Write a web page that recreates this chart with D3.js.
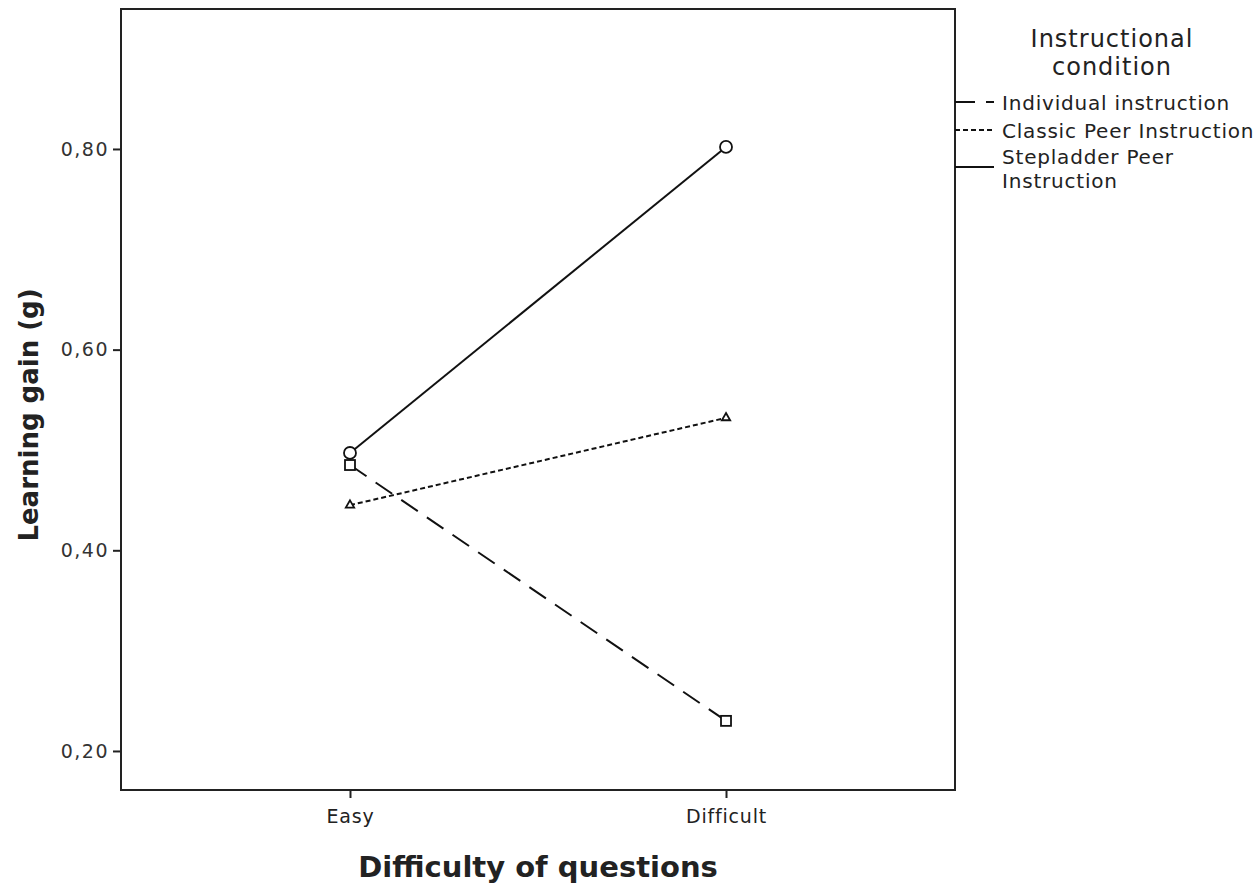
<!DOCTYPE html>
<html><head><meta charset="utf-8">
<script src="https://cdn.jsdelivr.net/npm/d3@7"></script>
<style>body{margin:0;background:#fff}</style>
</head><body>
<svg id="c" width="1258" height="885"></svg>
<script>
const categories = ["Easy", "Difficult"];
const seriesNames = ["Individual instruction", "Classic Peer Instruction", "Stepladder Peer Instruction"];
const individualValues = [0.485, 0.230];
const classicValues = [0.445, 0.532];
const stepladderValues = [0.497, 0.802];
const yTicks = [0.20, 0.40, 0.60, 0.80];

const series = [
  {name: seriesNames[0], values: individualValues, dash: "20,11", marker: "square"},
  {name: seriesNames[1], values: classicValues, dash: "5,3", marker: "triangle"},
  {name: seriesNames[2], values: stepladderValues, dash: null, marker: "circle"}
];

const svg = d3.select("#c");
const L = 121, R = 955, T = 9, B = 790;
const font = "'DejaVu Sans', sans-serif";
const x = d3.scalePoint().domain(categories).range([L, R]).padding(0.609);
const y = d3.scaleLinear().domain([0.1611, 0.9395]).range([B, T]);

// frame
svg.append("rect").attr("x", L).attr("y", T).attr("width", R - L).attr("height", B - T)
  .attr("fill", "none").attr("stroke", "#222").attr("stroke-width", 2);

// y axis
const ya = svg.append("g").attr("transform", `translate(${L},0)`)
  .call(d3.axisLeft(y).tickValues(yTicks).tickSize(8).tickPadding(4)
    .tickFormat(d => d3.format(".2f")(d).replace(".", ",")));
ya.select(".domain").remove();
ya.selectAll("line").attr("stroke", "#222").attr("stroke-width", 2);
ya.selectAll("text").attr("font-family", font).attr("font-size", 19).attr("letter-spacing", 1.5).attr("fill", "#333");

// x axis
const xa = svg.append("g").attr("transform", `translate(0,${B})`)
  .call(d3.axisBottom(x).tickSize(8).tickPadding(12));
xa.select(".domain").remove();
xa.selectAll("line").attr("stroke", "#222").attr("stroke-width", 2);
xa.selectAll("text").attr("font-family", font).attr("font-size", 19).attr("letter-spacing", 0.8).attr("fill", "#222");

// axis titles
svg.append("text").attr("x", (L + R) / 2).attr("y", 877).attr("text-anchor", "middle")
  .attr("font-family", font).attr("font-weight", "bold").attr("font-size", 29).attr("fill", "#222")
  .text("Difficulty of questions");
svg.append("text").attr("transform", `translate(38,415) rotate(-90)`).attr("text-anchor", "middle")
  .attr("font-family", font).attr("font-weight", "bold").attr("font-size", 26).attr("fill", "#222")
  .text("Learning gain (g)");

// lines
const line = d3.line().x((d, i) => x(categories[i])).y(d => y(d));
series.forEach(s => {
  svg.append("path").datum(s.values).attr("d", line).attr("fill", "none")
    .attr("stroke", "#111").attr("stroke-width", 2)
    .attr("stroke-dasharray", s.dash);
  s.values.forEach((v, i) => {
    const cx = x(categories[i]), cy = y(v);
    const g = svg.append("g");
    if (s.marker === "circle") {
      g.append("circle").attr("cx", cx).attr("cy", cy).attr("r", 6)
        .attr("fill", "#fff").attr("stroke", "#111").attr("stroke-width", 1.8);
    } else if (s.marker === "square") {
      g.append("rect").attr("x", cx - 5).attr("y", cy - 5).attr("width", 10).attr("height", 10)
        .attr("fill", "#fff").attr("stroke", "#111").attr("stroke-width", 1.8);
    } else {
      g.append("path").attr("d", d3.symbol().type(d3.symbolTriangle).size(30)())
        .attr("transform", `translate(${cx},${cy})`)
        .attr("fill", "#fff").attr("stroke", "#111").attr("stroke-width", 1.8);
    }
  });
});

// legend
const lg = svg.append("g");
lg.append("text").attr("x", 1112).attr("y", 47).attr("text-anchor", "middle")
  .attr("font-family", font).attr("font-size", 24).attr("letter-spacing", 1).attr("fill", "#222").text("Instructional");
lg.append("text").attr("x", 1112).attr("y", 75).attr("text-anchor", "middle")
  .attr("font-family", font).attr("font-size", 24).attr("letter-spacing", 1).attr("fill", "#222").text("condition");
const legY = [102, 130, 167];
series.forEach((s, i) => {
  lg.append("line").attr("x1", R).attr("x2", 994).attr("y1", legY[i]).attr("y2", legY[i])
    .attr("stroke", "#111").attr("stroke-width", 2).attr("stroke-dasharray", s.dash);
});
const legLabels = [["Individual instruction"], ["Classic Peer Instruction"], ["Stepladder Peer", "Instruction"]];
const legTextY = [110, 138, 164];
legLabels.forEach((lines, i) => {
  lines.forEach((t, j) => {
    lg.append("text").attr("x", 1002).attr("y", legTextY[i] + j * 24)
      .attr("font-family", font).attr("font-size", 20).attr("letter-spacing", 0.8).attr("fill", "#222").text(t);
  });
});
</script>
</body></html>
